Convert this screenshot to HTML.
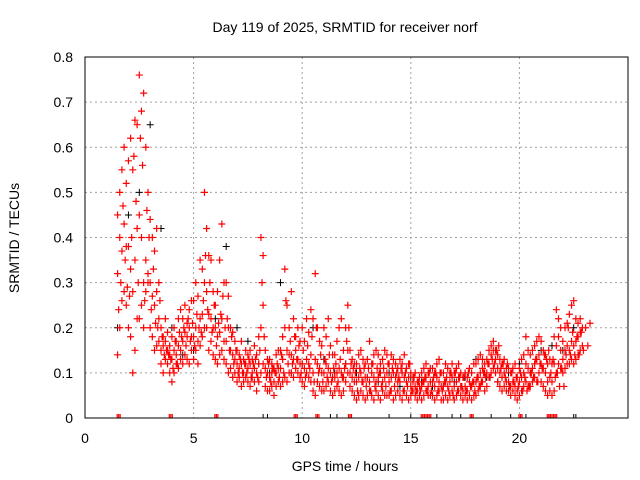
<!DOCTYPE html>
<html><head><meta charset="utf-8"><style>
body{margin:0;background:#fff}
svg{display:block;font-family:"Liberation Sans",sans-serif}
</style></head><body>
<svg id="chart" width="640" height="480">
<text x="345" y="32" font-size="14" text-anchor="middle">Day 119 of 2025, SRMTID for receiver norf</text>
<text x="345" y="471" font-size="14" text-anchor="middle">GPS time / hours</text>
<text transform="translate(19,238) rotate(-90)" font-size="14" text-anchor="middle">SRMTID / TECUs</text>
<g id="grid"></g>
<g id="ticks"></g>
<g id="pts"></g>
<rect x="85" y="57" width="543" height="361" fill="none" stroke="#000"/>
</svg>
<script>
const xTicks=[0,5,10,15,20];
const yTicks=[0,0.1,0.2,0.3,0.4,0.5,0.6,0.7,0.8];
const yTickLabels=["0","0.1","0.2","0.3","0.4","0.5","0.6","0.7","0.8"];
const tStart=1.5, tStep=0.1;
const redLow=[.14,.2,.26,.28,.25,.2,.18,.1,.15,.22,.22,.25,.2,.28,.3,.2,.18,.15,.16,.17,.12,.1,.13,.12,.1,.08,.1,.12,.11,.13,.12,.14,.13,.12,.15,.13,.15,.12,.16,.18,.2,.2,.15,.17,.14,.13,.12,.14,.15,.13,.12,.1,.11,.09,.1,.08,.09,.07,.08,.09,.08,.07,.09,.08,.06,.08,.1,.12,.07,.06,.06,.07,.05,.07,.08,.07,.08,.09,.08,.1,.1,.09,.11,.1,.09,.08,.07,.1,.09,.08,.06,.05,.08,.07,.06,.06,.07,.08,.06,.05,.06,.07,.06,.05,.06,.08,.1,.07,.06,.05,.04,.05,.06,.05,.04,.05,.06,.05,.04,.06,.05,.04,.06,.05,.05,.05,.06,.04,.05,.06,.05,.04,.06,.05,.04,.05,.06,.05,.04,.05,.04,.05,.06,.05,.05,.05,.04,.05,.06,.04,.04,.05,.04,.05,.06,.04,.05,.06,.05,.04,.05,.04,.05,.04,.05,.05,.06,.07,.08,.06,.07,.09,.1,.11,.1,.08,.07,.06,.07,.06,.06,.05,.06,.05,.04,.05,.06,.07,.08,.07,.07,.08,.09,.08,.1,.08,.07,.06,.05,.06,.05,.06,.1,.12,.11,.1,.11,.12,.12,.13,.12,.13,.14,.15,.16];
const redMid=[.32,.4,.37,.43,.38,.38,.33,.28,.35,.42,.45,.4,.3,.35,.32,.3,.27,.25,.28,.22,.15,.16,.17,.15,.14,.13,.15,.14,.16,.15,.17,.19,.18,.2,.18,.18,.2,.17,.22,.23,.3,.28,.23,.22,.2,.2,.18,.19,.22,.17,.17,.2,.15,.14,.13,.12,.11,.12,.1,.12,.11,.12,.1,.11,.1,.12,.2,.25,.11,.1,.09,.1,.08,.1,.11,.11,.13,.2,.15,.14,.14,.13,.15,.13,.12,.12,.11,.13,.12,.14,.1,.13,.12,.11,.1,.1,.12,.11,.1,.09,.09,.1,.11,.1,.09,.12,.15,.1,.09,.08,.08,.09,.1,.08,.09,.09,.08,.1,.09,.08,.09,.1,.08,.09,.1,.08,.09,.1,.09,.08,.08,.1,.09,.08,.09,.07,.08,.07,.06,.07,.07,.08,.09,.07,.08,.08,.07,.09,.08,.07,.07,.08,.07,.08,.09,.07,.08,.09,.07,.06,.07,.06,.08,.07,.08,.08,.09,.1,.11,.1,.1,.12,.14,.15,.13,.11,.1,.09,.1,.08,.08,.07,.08,.07,.06,.08,.09,.1,.12,.11,.1,.11,.12,.13,.14,.12,.11,.1,.08,.09,.08,.12,.16,.18,.15,.13,.15,.16,.15,.17,.16,.17,.18,.19,.2];
const redHigh=[.45,.5,.55,.6,.52,.57,.62,.55,.66,.65,.76,.68,.72,.6,.5,.44,.4,.37,.42,.3,.2,.18,.22,.19,.16,.18,.2,.17,.22,.24,.22,.25,.21,.24,.26,.26,.3,.27,.35,.33,.5,.42,.36,.35,.28,.25,.28,.35,.43,.3,.3,.27,.2,.19,.17,.15,.14,.17,.13,.15,.14,.15,.13,.16,.14,.18,.4,.36,.15,.13,.13,.12,.11,.14,.15,.15,.18,.33,.25,.2,.28,.22,.18,.2,.17,.2,.17,.22,.19,.24,.22,.32,.2,.17,.16,.2,.18,.22,.16,.14,.14,.17,.2,.22,.15,.2,.25,.15,.13,.12,.12,.14,.15,.13,.12,.13,.17,.12,.14,.15,.14,.12,.13,.15,.14,.12,.14,.13,.12,.11,.13,.12,.14,.11,.12,.1,.09,.1,.08,.09,.1,.11,.12,.1,.11,.11,.1,.12,.13,.1,.1,.12,.11,.1,.12,.1,.11,.12,.1,.09,.1,.09,.11,.1,.12,.12,.13,.14,.13,.12,.13,.15,.16,.17,.15,.14,.13,.12,.13,.11,.11,.1,.11,.12,.09,.11,.13,.14,.18,.15,.14,.15,.16,.17,.18,.17,.15,.14,.12,.13,.12,.18,.24,.22,.2,.17,.2,.21,.23,.25,.26,.22,.21,.22,.2];
const tStart2=1.55;
const redExtra=[.24,.3,.47,.35,.29,.27,.4,.58,.48,.3,.62,.56,.26,.46,.4,.24,.33,.21,.2,.26,.18,.14,.15,.14,.13,.11,.17,.12,.19,.18,.2,.16,.22,.17,.21,.16,.23,.2,.19,.26,.36,.24,.3,.19,.25,.16,.21,.23,.27,.2,.22,.15,.18,.12,.15,.1,.13,.1,.12,.1,.13,.09,.12,.13,.09,.15,.3,.18,.09,.12,.08,.11,.1,.12,.09,.14,.1,.26,.12,.17,.12,.18,.13,.16,.1,.15,.09,.16,.11,.18,.08,.2,.1,.14,.08,.13,.09,.14,.08,.11,.12,.08,.13,.09,.11,.17,.2,.12,.11,.1,.06,.11,.08,.11,.07,.11,.06,.12,.07,.11,.1,.07,.11,.07,.12,.06,.11,.07,.1,.09,.11,.06,.1,.07,.12,.06,.09,.06,.08,.06,.08,.09,.06,.1,.06,.09,.1,.06,.1,.06,.08,.09,.06,.1,.05,.1,.06,.09,.07,.09,.06,.1,.07,.08,.06,.09,.07,.08,.1,.09,.12,.09,.13,.12,.15,.16,.11,.12,.09,.12,.07,.1,.08,.09,.07,.1,.06,.09,.06,.07,.1,.09,.13,.08,.12,.11,.14,.13,.15,.1,.13,.09,.1,.07,.11,.07,.14,.2,.14,.19,.14,.18,.14,.19,.15,.2,.16,.21];
const bStart=1.5, bStep=0.5;
const blackVals=[.2,.45,.5,.65,.42,.2,.14,.15,.2,.22,.38,.2,.17,.12,.1,.3,.1,.12,.2,.13,.1,.12,.1,.09,.08,.1,.07,.09,.08,.07,.07,.08,.09,.13,.09,.08,.1,.12,.1,.15,.16,.15,.2];
const redZero=[1.55,3.95,6.05,9.7,10.7,12.2,15.55,15.7,15.85,17.8,20.05,21.35,21.5,21.65];
const blackZero=[8.2,8.4,11.3,11.6,14.0,15.0,16.2,16.9,17.3,18.7,19.6,20.3,22.5,22.6];

const X=t=>85+t*(543/25), Y=v=>418-v*(361/0.8);
const NS="http://www.w3.org/2000/svg";
const grid=document.getElementById('grid'), ticks=document.getElementById('ticks'), pts=document.getElementById('pts');
function mk(tag,at,parent){const e=document.createElementNS(NS,tag);for(const k in at)e.setAttribute(k,at[k]);parent.appendChild(e);return e;}
xTicks.forEach(t=>{
  if(t>0){const g=mk('line',{x1:X(t),x2:X(t),y1:57,y2:418,stroke:'#a0a0a0','stroke-dasharray':'2,3'},grid);
  
  }
  const l=mk('text',{x:X(t),y:443,'font-size':14,'text-anchor':'middle'},ticks);l.textContent=t;
  
  
});
yTicks.forEach((v,i)=>{
  if(v>0&&v<0.8){const g=mk('line',{x1:85,x2:628,y1:Y(v),y2:Y(v),stroke:'#a0a0a0','stroke-dasharray':'2,3'},grid);
  
  }
  const l=mk('text',{x:73,y:Y(v)+5,'font-size':14,'text-anchor':'end'},ticks);l.textContent=yTickLabels[i];
  
  
});
let dRed='',dBlack='';
const plus=(t,v)=>{const x=X(t),y=Y(v);return `M${x-3.5} ${y}h7M${x} ${y-3.5}v7`;};
blackVals.forEach((v,i)=>{dBlack+=plus(bStart+i*bStep,v);});
[redLow,redMid,redHigh].forEach(arr=>arr.forEach((v,i)=>{dRed+=plus(tStart+i*tStep,v);}));
redExtra.forEach((v,i)=>{dRed+=plus(tStart2+i*tStep,v);});
redZero.forEach(t=>{const x=X(t);dRed+=`M${x-1.5} 414v4M${x} 414v4M${x+1.5} 414v4`;});
blackZero.forEach(t=>{dBlack+=`M${X(t)} 414v4`;});
const pb=mk('path',{d:dBlack,stroke:'#000',fill:'none','stroke-width':1},pts);


const pr=mk('path',{d:dRed,stroke:'#ff0000',fill:'none','stroke-width':1.2},pts);


</script>
</body></html>
